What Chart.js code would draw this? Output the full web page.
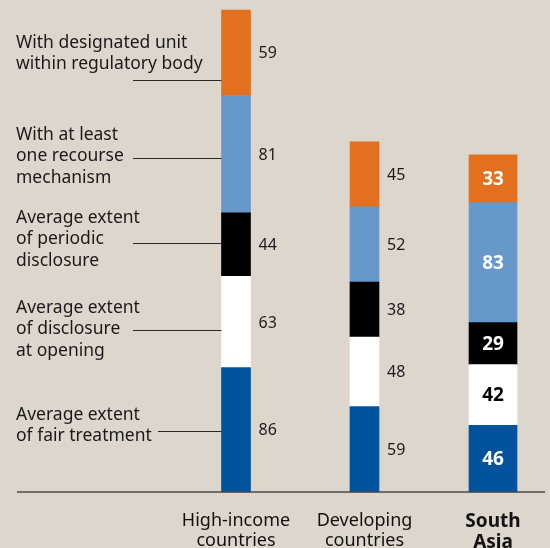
<!DOCTYPE html>
<html>
<head>
<meta charset="utf-8">
<script src="https://cdn.jsdelivr.net/npm/chart.js@4.4.0/dist/chart.umd.min.js"></script>
<style>
  html, body { margin: 0; padding: 0; background: #ddd6cc; }
  #wrap { width: 550px; height: 548px; }
</style>
</head>
<body>
<div id="wrap"><canvas id="chart" width="550" height="548"></canvas></div>
<script>
// Categories and values (share of economies, %)
var groups = [['High-income', 'countries'], ['Developing', 'countries'], ['South', 'Asia']];
var series_names = [
  'Average extent of fair treatment',
  'Average extent of disclosure at opening',
  'Average extent of periodic disclosure',
  'With at least one recourse mechanism',
  'With designated unit within regulatory body'
];
var fair_treatment      = [86, 59, 46];
var disclosure_opening  = [63, 48, 42];
var periodic_disclosure = [44, 38, 29];
var recourse_mechanism  = [81, 52, 83];
var designated_unit     = [59, 45, 33];

var series_values = [fair_treatment, disclosure_opening, periodic_disclosure, recourse_mechanism, designated_unit];
var series_colors = ['#00539c', '#ffffff', '#000000', '#6699c9', '#e2701f'];
var inside_text_colors = ['#ffffff', '#000000', '#ffffff', '#ffffff', '#ffffff'];

// side labels, top to bottom
var side_labels = [
  { lines: ['With designated unit', 'within regulatory body'], top: 43, leader: 80, from: 133 },
  { lines: ['With at least', 'one recourse', 'mechanism'], top: 135, leader: 158, from: 133 },
  { lines: ['Average extent', 'of periodic', 'disclosure'], top: 218, leader: 243, from: 133 },
  { lines: ['Average extent', 'of disclosure', 'at opening'], top: 308, leader: 330, from: 133 },
  { lines: ['Average extent', 'of fair treatment'], top: 415, leader: 431, from: 158 }
];

var FONT = "'Noto Sans', sans-serif";
Chart.defaults.font.family = FONT;

// narrow bars for the first two groups, a wider one for South Asia
var datasets = [];
series_values.forEach(function (vals, k) {
  datasets.push({
    label: series_names[k],
    data: vals.map(function (v, i) { return i < 2 ? v : null; }),
    backgroundColor: series_colors[k],
    barThickness: 29,
    inside: false,
    clip: false
  });
});
series_values.forEach(function (vals, k) {
  datasets.push({
    label: series_names[k] + ' (South Asia)',
    data: vals.map(function (v, i) { return i === 2 ? v : null; }),
    backgroundColor: series_colors[k],
    barThickness: 48,
    inside: true,
    textColor: inside_text_colors[k],
    clip: false
  });
});

var annotations = {
  id: 'annotations',
  afterDatasetsDraw: function (chart) {
    var ctx = chart.ctx;
    var yb = chart.scales.y.getPixelForValue(0);
    ctx.save();

    // baseline
    ctx.strokeStyle = '#4a4a4a';
    ctx.lineWidth = 1.5;
    ctx.beginPath();
    ctx.moveTo(17, yb);
    ctx.lineTo(545, yb);
    ctx.stroke();

    // value labels
    chart.data.datasets.forEach(function (ds, di) {
      var meta = chart.getDatasetMeta(di);
      meta.data.forEach(function (bar, i) {
        var v = ds.data[i];
        if (v == null) return;
        var p = bar.getProps(['x', 'y', 'base', 'width'], true);
        var cy = (p.y + p.base) / 2;
        ctx.textBaseline = 'middle';
        if (ds.inside) {
          ctx.font = 'bold 19px ' + FONT;
          ctx.fillStyle = ds.textColor;
          ctx.textAlign = 'center';
          ctx.fillText(String(v), p.x, cy + 1);
        } else {
          ctx.font = '16px ' + FONT;
          ctx.fillStyle = '#1a1a1a';
          ctx.textAlign = 'left';
          ctx.fillText(String(v), p.x + p.width / 2 + 8, cy + 1);
        }
      });
    });

    // side labels with leader lines to the high-income bar
    var first = chart.getDatasetMeta(0).data[0].getProps(['x', 'width'], true);
    var barLeft = first.x - first.width / 2;
    ctx.font = '17.5px ' + FONT;
    ctx.fillStyle = '#1a1a1a';
    ctx.textAlign = 'left';
    ctx.textBaseline = 'middle';
    side_labels.forEach(function (s) {
      s.lines.forEach(function (t, j) {
        ctx.fillText(t, 16, s.top + j * 21.5);
      });
      ctx.strokeStyle = '#2a2a2a';
      ctx.lineWidth = 1;
      ctx.beginPath();
      ctx.moveTo(s.from, s.leader + 0.5);
      ctx.lineTo(barLeft, s.leader + 0.5);
      ctx.stroke();
    });
    ctx.restore();
  }
};

new Chart(document.getElementById('chart'), {
  type: 'bar',
  data: { labels: groups, datasets: datasets },
  options: {
    responsive: false,
    animation: false,
    devicePixelRatio: 1,
    layout: { padding: { left: 236, right: 57, top: 0, bottom: 0 } },
    plugins: { legend: { display: false }, tooltip: { enabled: false } },
    scales: {
      x: {
        stacked: true,
        offset: false,
        grid: { display: false, drawTicks: false },
        border: { display: false },
        afterFit: function (scale) { scale.height = 56; },
        ticks: {
          padding: 19,
          color: '#111',
          maxRotation: 0,
          autoSkip: false,
          font: function (c) {
            return c.index === 2 ? { size: 19, weight: 'bold', lineHeight: 1.1 } : { size: 18, lineHeight: 1.1 };
          }
        }
      },
      y: {
        stacked: true,
        display: false,
        min: 0,
        max: 340
      }
    }
  },
  plugins: [annotations]
});
</script>
</body>
</html>
